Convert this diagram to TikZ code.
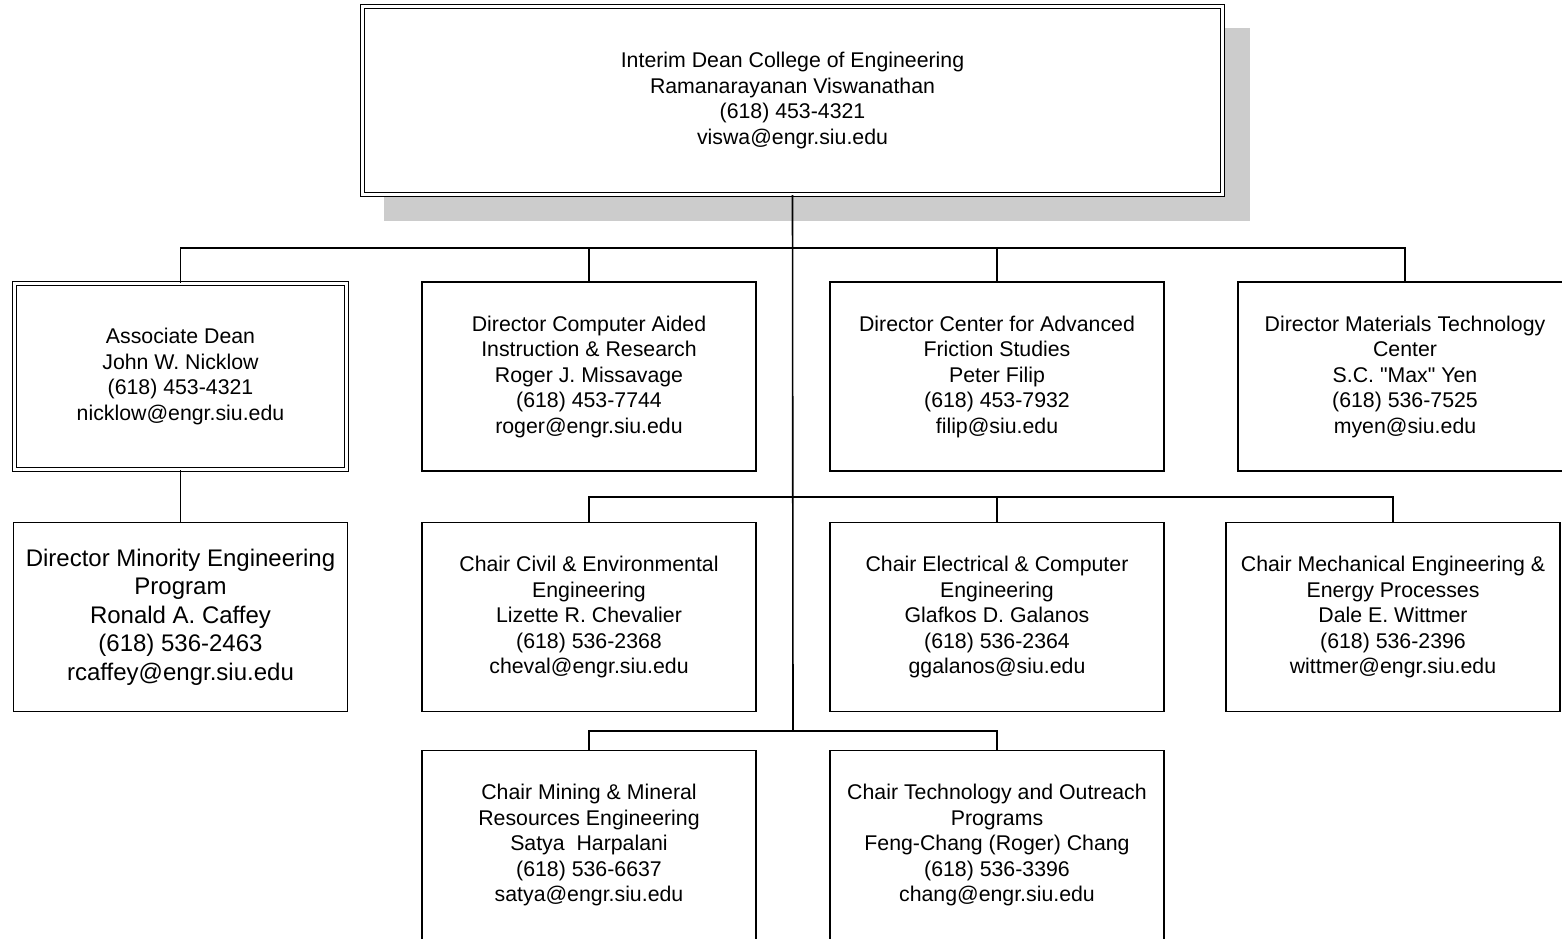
\documentclass[tikz,border=0pt]{standalone}
\usepackage{fontspec}
\setmainfont{Liberation Sans}
\newfontfamily\plainquotes{Liberation Sans}

\tikzset{
  unit/.style={draw,line width=1.8pt,fill=white,minimum width=334pt,minimum height=189pt,
    align=center,font=\fontsize{21.3pt}{25.5pt}\selectfont,inner sep=0pt},
  headunit/.style={unit,double,line width=1.3pt,double distance=2.2pt,
    minimum width=332pt,minimum height=186pt},
  link/.style={line width=1.6pt}
}

\begin{document}
\begin{tikzpicture}
  [x=1pt,y=-1pt]
  \useasboundingbox (0,0) rectangle (1562,938);
  \clip (0,0) rectangle (1562,938);

  % shadow of the dean box
  \fill[black!20] (384,28) rectangle (1250,221);

  \node[headunit,minimum width=860pt,minimum height=188pt] (dean) at (792.5,100.5)
    {Interim Dean College of Engineering\\Ramanarayanan Viswanathan\\(618) 453-4321\\viswa@engr.siu.edu};

  \node[headunit] (assoc) at (180.5,376.5)
    {Associate Dean\\John W. Nicklow\\(618) 453-4321\\nicklow@engr.siu.edu};
  \node[unit] (cair) at (589,376.5)
    {Director Computer Aided\\Instruction \& Research\\Roger J. Missavage\\(618) 453-7744\\roger@engr.siu.edu};
  \node[unit] (friction) at (997,376.5)
    {Director Center for Advanced\\Friction Studies\\Peter Filip\\(618) 453-7932\\filip@siu.edu};
  \node[unit] (mtc) at (1405,376.5)
    {Director Materials Technology\\Center\\{\plainquotes S.C. "Max" Yen}\\(618) 536-7525\\myen@siu.edu};

  \node[unit,font=\fontsize{24pt}{28.5pt}\selectfont] (minority) at (180.5,617)
    {Director Minority Engineering\\Program\\Ronald A. Caffey\\(618) 536-2463\\rcaffey@engr.siu.edu};
  \node[unit] (civil) at (589,617)
    {Chair Civil \& Environmental\\Engineering\\Lizette R. Chevalier\\(618) 536-2368\\cheval@engr.siu.edu};
  \node[unit] (ece) at (997,617)
    {Chair Electrical \& Computer\\Engineering\\Glafkos D. Galanos\\(618) 536-2364\\ggalanos@siu.edu};
  \node[unit] (mech) at (1393,617)
    {Chair Mechanical Engineering \&\\Energy Processes\\Dale E. Wittmer\\(618) 536-2396\\wittmer@engr.siu.edu};

  \node[unit] (mining) at (589,845)
    {Chair Mining \& Mineral\\Resources Engineering\\Satya\ \ Harpalani\\(618) 536-6637\\satya@engr.siu.edu};
  \node[unit] (tech) at (997,845)
    {Chair Technology and Outreach\\Programs\\Feng-Chang (Roger) Chang\\(618) 536-3396\\chang@engr.siu.edu};

  % bus lines
  \coordinate (bus1) at (793,248);
  \coordinate (bus2) at (793,497);
  \coordinate (bus3) at (793,731);

  \draw[link] (dean.south) -- (bus3);
  \foreach \n in {assoc,cair,friction,mtc}
    \draw[link] (\n.north) |- (bus1);
  \foreach \n in {civil,ece,mech}
    \draw[link] (\n.north) |- (bus2);
  \foreach \n in {mining,tech}
    \draw[link] (\n.north) |- (bus3);
  \draw[link] (assoc.south) -- (minority.north);

\end{tikzpicture}
\end{document}
